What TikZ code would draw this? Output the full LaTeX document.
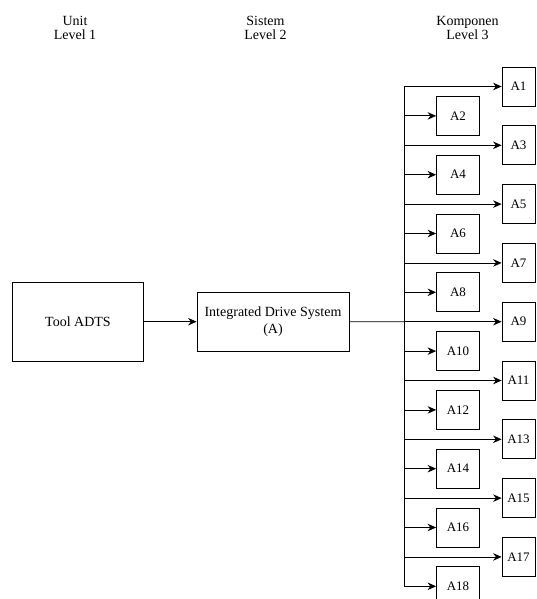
\documentclass[tikz,border=0pt]{standalone}
\usepackage{fontspec}
\setmainfont{Liberation Serif}
\usepackage{tikz}
\usetikzlibrary{arrows.meta,positioning}

\tikzset{
  blok/.style={draw, line width=0.8pt, inner sep=0pt, align=center},
  panah/.style={line width=0.8pt, -{Stealth[length=8.5pt,width=7.5pt]}},
  judul/.style={align=center, font=\fontsize{14}{14.5}\selectfont}
}

\begin{document}
\begin{tikzpicture}[x=1pt, y=-1pt, font=\fontsize{14}{16.5}\selectfont]
        \useasboundingbox (0,0) rectangle (536,599);

        % judul tiap level
        \node[judul] (lv1) at (75, 28)    {Unit\\Level 1};
        \node[judul] (lv2) at (265.5, 28) {Sistem\\Level 2};
        \node[judul] (lv3) at (467.5, 28) {Komponen\\Level 3};

        % unit dan sistem
        \node[blok, minimum width=130.5pt, minimum height=78.5pt] (unit) at (78, 321.7) {Tool ADTS};
        \node[blok, minimum width=152pt, minimum height=59pt] (ids) at (273, 321.7) {Integrated Drive System\\(A)};
        \draw[panah] (unit) -- (ids);

        % komponen A1..A18
        \foreach \i in {1,...,18} {
            \pgfmathsetmacro{\yy}{86.5 + 29.4*(\i-1)}
            \coordinate (b\i) at (404, \yy);
            \ifodd\i
                \node[blok, font=\fontsize{13}{15}\selectfont, minimum width=33pt, minimum height=39pt] (a\i) at (518.5, \yy) {A\i};
            \else
                \node[blok, font=\fontsize{13}{15}\selectfont, minimum width=43pt, minimum height=39pt] (a\i) at (458, \yy) {A\i};
            \fi
            \draw[panah] (b\i) -- (a\i);
        }
        \draw[line width=0.8pt] (b1) -- (b18);
        \draw[line width=0.8pt] (ids.east) -- (b9);
    \end{tikzpicture}
\end{document}
